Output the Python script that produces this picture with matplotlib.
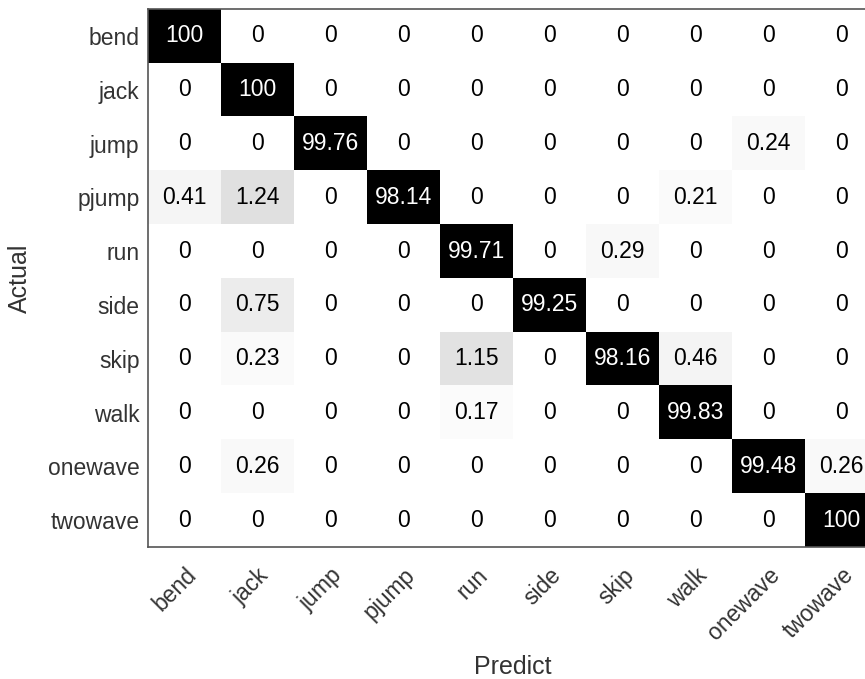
import numpy as np
import matplotlib
matplotlib.use('Agg')
import matplotlib.pyplot as plt
from matplotlib.transforms import ScaledTranslation

plt.rcParams['font.family'] = ['Liberation Sans', 'DejaVu Sans']

classes = ['bend', 'jack', 'jump', 'pjump', 'run', 'side', 'skip', 'walk',
           'onewave', 'twowave']

# rows = actual, cols = predicted (percent)
bend    = [100, 0, 0, 0, 0, 0, 0, 0, 0, 0]
jack    = [0, 100, 0, 0, 0, 0, 0, 0, 0, 0]
jump    = [0, 0, 99.76, 0, 0, 0, 0, 0, 0.24, 0]
pjump   = [0.41, 1.24, 0, 98.14, 0, 0, 0, 0.21, 0, 0]
run     = [0, 0, 0, 0, 99.71, 0, 0.29, 0, 0, 0]
side    = [0, 0.75, 0, 0, 0, 99.25, 0, 0, 0, 0]
skip    = [0, 0.23, 0, 0, 1.15, 0, 98.16, 0.46, 0, 0]
walk    = [0, 0, 0, 0, 0.17, 0, 0, 99.83, 0, 0]
onewave = [0, 0.26, 0, 0, 0, 0, 0, 0, 99.48, 0.26]
twowave = [0, 0, 0, 0, 0, 0, 0, 0, 0, 100]

cm = np.array([bend, jack, jump, pjump, run, side, skip, walk, onewave, twowave])

fig = plt.figure(figsize=(8.65, 6.79), dpi=100)
ax = fig.add_axes([148/865, 132/679, 730/865, 538/679])

ax.imshow(cm, cmap='gray_r', vmin=0, vmax=10, aspect='auto',
          interpolation='nearest')

for i in range(cm.shape[0]):
    for j in range(cm.shape[1]):
        v = cm[i, j]
        txt = '%g' % v
        ax.text(j, i, txt, ha='center', va='center', fontsize=16.5,
                color='white' if v > 50 else 'black')

ax.set_xticks(np.arange(len(classes)))
ax.set_yticks(np.arange(len(classes)))
ax.set_yticklabels(classes, fontsize=16.5, color='#333333')
ax.set_xticklabels(classes, fontsize=16.5, color='#333333', rotation=45,
                   ha='right', rotation_mode='anchor')
offset = ScaledTranslation(18/100, 0, fig.dpi_scale_trans)
for lab in ax.get_xticklabels():
    lab.set_transform(lab.get_transform() + offset)
ax.tick_params(axis='both', length=0)
ax.tick_params(axis='x', pad=12)
ax.tick_params(axis='y', pad=6)

for s in ax.spines.values():
    s.set_color('#555555')
    s.set_linewidth(1.2)

ax.set_xlabel('Predict', fontsize=18, color='#333333')
ax.set_ylabel('Actual', fontsize=18, color='#333333')
ax.xaxis.set_label_coords(0.5, -0.201)
ax.yaxis.set_label_coords(-0.159, 0.5)

fig.savefig('out.png', dpi=100)
